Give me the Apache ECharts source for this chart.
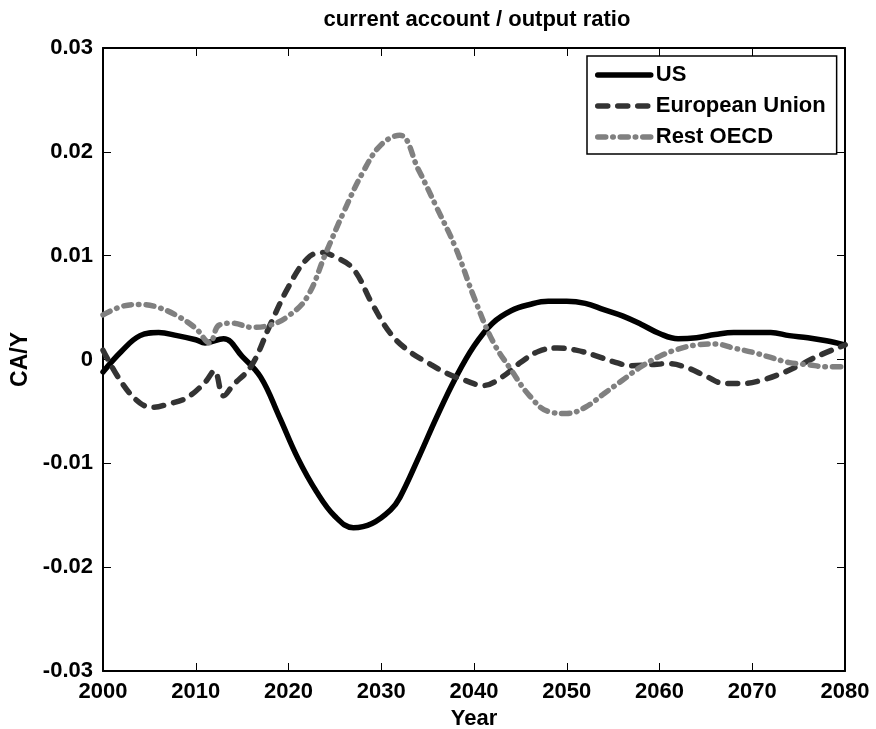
<!DOCTYPE html>
<html>
<head>
<meta charset="utf-8">
<script src="https://cdn.jsdelivr.net/npm/echarts@6/dist/echarts.min.js"></script>
<style>html,body{margin:0;padding:0;background:#fff}#c{width:876px;height:729px}</style>
</head>
<body>
<div id="c"></div>
<script>
var titleText = 'current account / output ratio';
var xName = 'Year';
var yName = 'CA/Y';
var seriesNames = ['US', 'European Union', 'Rest OECD'];

var usData = [
  [2000,-0.0012],[2002,0.0008],[2004,0.0023],[2006,0.0026],[2008,0.0023],[2010,0.0019],
  [2011,0.0016],[2013,0.0020],[2015,0.0003],[2017,-0.0017],[2019,-0.0055],[2021,-0.0095],
  [2023,-0.0127],[2025,-0.0151],[2027,-0.0162],[2029,-0.0158],[2031,-0.0145],[2032,-0.0133],
  [2034,-0.0095],[2036,-0.0055],[2038,-0.0018],[2040,0.0013],[2042,0.0035],[2044,0.0047],
  [2046,0.0053],[2048,0.0056],[2050,0.0056],[2052,0.0054],[2054,0.0048],[2056,0.0042],
  [2058,0.0034],[2060,0.0025],[2062,0.0020],[2064,0.0021],[2066,0.0024],[2068,0.0026],
  [2070,0.0026],[2072,0.0026],[2074,0.0023],[2076,0.0021],[2078,0.0018],[2080,0.0014]
];
var euData = [
  [2000,0.0009],[2002,-0.0022],[2004,-0.0042],[2005.5,-0.0046],[2007,-0.0043],[2009,-0.0037],
  [2011,-0.0022],[2012,-0.0011],[2013,-0.0035],[2014,-0.0025],[2016,-0.0006],[2018,0.0033],
  [2020,0.0070],[2022,0.0097],[2023.5,0.0103],[2025,0.0099],[2027,0.0087],[2029,0.0054],
  [2031,0.0025],[2033,0.0008],[2035,-0.0003],[2037,-0.0013],[2039,-0.0020],[2041,-0.0025],
  [2043,-0.0017],[2045,-0.0003],[2047,0.0008],[2049,0.0011],[2051,0.0009],[2053,0.0004],
  [2055,-0.0002],[2057,-0.0006],[2059,-0.0005],[2061,-0.0004],[2063,-0.0008],[2065,-0.0016],
  [2067,-0.0023],[2069,-0.0023],[2071,-0.0020],[2073,-0.0014],[2075,-0.0006],[2077,0.0003],
  [2080,0.0014]
];
var roData = [
  [2000,0.0043],[2002,0.0051],[2004,0.0053],[2006,0.0050],[2008,0.0042],[2010,0.0030],
  [2011.5,0.0016],[2012.5,0.0033],[2014,0.0035],[2016,0.0031],[2018,0.0033],[2020,0.0042],
  [2022,0.0060],[2024,0.0102],[2026,0.0143],[2028,0.0180],[2030,0.0207],[2032,0.0216],
  [2034,0.0183],[2036,0.0146],[2038,0.0108],[2040,0.0060],[2042,0.0018],[2044,-0.0010],
  [2046,-0.0035],[2048,-0.0050],[2050,-0.0052],[2052,-0.0046],[2054,-0.0033],[2056,-0.0020],
  [2058,-0.0007],[2060,0.0003],[2062,0.0010],[2064,0.0014],[2066,0.0015],[2068,0.0011],
  [2070,0.0007],[2072,0.0002],[2074,-0.0003],[2076,-0.0005],[2078,-0.0007],[2080,-0.0007]
];

var FONT = '"Liberation Sans", Arial, sans-serif';
var chart = echarts.init(document.getElementById('c'), null, {renderer: 'canvas'});

function yfmt(v){ var r = Math.round(v*100)/100; return r === 0 ? '0' : r.toFixed(2); }

var axisLine = {show: true, onZero: false, lineStyle: {color: '#000', width: 2}};
var tick = {show: true, inside: true, length: 8, lineStyle: {color: '#000', width: 1}};

var styles = [
  {color: '#000', width: 5.5, type: 'solid', cap: 'round', join: 'round'},
  {color: '#333', width: 5.5, type: [10, 10], cap: 'round', join: 'round'},
  {color: '#808080', width: 5.5, type: [8, 7, 0.5, 7], cap: 'round', join: 'round'}
];

var option = {
  backgroundColor: '#fff',
  animation: false,
  title: {
    text: titleText, left: 472, top: 4, textAlign: 'center',
    textStyle: {fontFamily: FONT, fontWeight: 'bold', fontSize: 22, color: '#000'}
  },
  grid: {left: 103, right: 31, top: 48, bottom: 58, containLabel: false, outerBoundsMode: 'none'},
  legend: {
    orient: 'vertical', left: 587, top: 56,
    backgroundColor: '#fff', borderColor: '#000', borderWidth: 1.5, borderRadius: 0,
    padding: [8, 11, 6, 8], itemWidth: 53, itemHeight: 14, itemGap: 9,
    itemStyle: {opacity: 0},
    textStyle: {fontFamily: FONT, fontWeight: 'bold', fontSize: 22, color: '#000', lineHeight: 22},
    data: seriesNames.map(function(n, i){ return {name: n, lineStyle: styles[i], itemStyle: {opacity: 0}}; })
  },
  xAxis: [{
    type: 'value', min: 2000, max: 2080, interval: 10, position: 'bottom',
    name: xName, nameLocation: 'middle', nameGap: 37,
    nameTextStyle: {fontFamily: FONT, fontWeight: 'bold', fontSize: 22, color: '#000'},
    axisLine: axisLine, axisTick: tick, splitLine: {show: false},
    axisLabel: {fontFamily: FONT, fontWeight: 'bold', fontSize: 22, color: '#000', margin: 10, formatter: function(v){return String(v);}}
  },{
    type: 'value', min: 2000, max: 2080, interval: 10, position: 'top',
    axisLine: axisLine, axisTick: tick, splitLine: {show: false}, axisLabel: {show: false}
  }],
  yAxis: [{
    type: 'value', min: -0.03, max: 0.03, interval: 0.01, position: 'left',
    name: yName, nameLocation: 'middle', nameGap: 64, nameRotate: 90,
    nameTextStyle: {fontFamily: FONT, fontWeight: 'bold', fontSize: 23, color: '#000'},
    axisLine: axisLine, axisTick: tick, splitLine: {show: false},
    axisLabel: {fontFamily: FONT, fontWeight: 'bold', fontSize: 22, color: '#000', margin: 10, formatter: yfmt}
  },{
    type: 'value', min: -0.03, max: 0.03, interval: 0.01, position: 'right',
    axisLine: axisLine, axisTick: tick, splitLine: {show: false}, axisLabel: {show: false}
  }],
  series: [
    {name: seriesNames[0], type: 'line', data: usData, smooth: 0.4, symbol: 'none', showSymbol: false,
     itemStyle: {color: '#000'}, lineStyle: styles[0], z: 1},
    {name: seriesNames[1], type: 'line', data: euData, smooth: 0.4, symbol: 'none', showSymbol: false,
     itemStyle: {color: '#333'}, lineStyle: styles[1], z: 2},
    {name: seriesNames[2], type: 'line', data: roData, smooth: 0.4, symbol: 'none', showSymbol: false,
     itemStyle: {color: '#808080'}, lineStyle: styles[2], z: 3}
  ]
};
chart.setOption(option);
</script>
</body>
</html>
